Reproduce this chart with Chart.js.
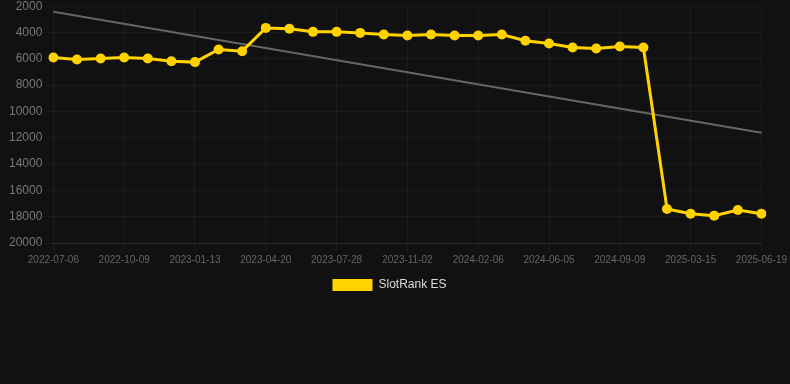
<!DOCTYPE html>
<html>
<head>
<meta charset="utf-8">
<script src="https://cdn.jsdelivr.net/npm/chart.js@4"></script>
<style>
  html, body { margin: 0; padding: 0; background: #111111; overflow: hidden; }
  #wrap { width: 790px; height: 305px; position: relative; top: -4px; }
</style>
</head>
<body>
<div id="wrap"><canvas id="rankChart"></canvas></div>
<script>
const dates = [
    '2022-07-06', '2022-08-07', '2022-09-08', '2022-10-09', '2022-11-10', '2022-12-12',
    '2023-01-13', '2023-02-15', '2023-03-18', '2023-04-20', '2023-05-22', '2023-06-25',
    '2023-07-28', '2023-08-30', '2023-10-01', '2023-11-02', '2023-12-05', '2024-01-06',
    '2024-02-06', '2024-03-10', '2024-04-12', '2024-06-05', '2024-07-07', '2024-08-08',
    '2024-09-09', '2024-10-11', '2025-01-12', '2025-03-15', '2025-04-16', '2025-05-18',
    '2025-06-19'
]
const rankEs = [
    5900, 6050, 5970, 5900, 5970, 6180,
    6250, 5290, 5420, 3650, 3720, 3950,
    3950, 4030, 4150, 4230, 4150, 4230,
    4230, 4150, 4630, 4840, 5140, 5210,
    5060, 5140, 17420, 17770, 17920, 17490,
    17770
]
// trend line: only the two end values, gap spanned by the library
const trendEnds = [2430, 11620]
const yTicks = [2000, 4000, 6000, 8000, 10000, 12000, 14000, 16000, 18000, 20000]

const trendData = dates.map(function(d, i) {
    if (i === 0) return trendEnds[0]
    if (i === dates.length - 1) return trendEnds[1]
    return null
})

const ctx = document.getElementById('rankChart')
new Chart(ctx, {
    type: 'line',
    data: {
        labels: dates,
        datasets: [
            {
                label: 'SlotRank ES',
                data: rankEs,
                borderColor: '#FFD200',
                backgroundColor: '#FFD200',
                borderWidth: 3,
                pointRadius: 5,
                pointBackgroundColor: '#FFD200',
                pointBorderWidth: 0,
                tension: 0
            },
            {
                label: 'trend',
                data: trendData,
                spanGaps: true,
                borderColor: '#666666',
                borderWidth: 2,
                pointRadius: 0,
                tension: 0
            }
        ]
    },
    options: {
        responsive: true,
        maintainAspectRatio: false,
        animation: false,
        layout: { padding: { left: 6, right: 17, top: 0, bottom: 0 } },
        plugins: {
            legend: {
                position: 'bottom',
                labels: {
                    boxWidth: 40,
                    boxHeight: 12,
                    color: '#dddddd',
                    font: { size: 12 },
                    filter: function(item) { return item.text !== 'trend' },
                    generateLabels: function(chart) {
                        const items = Chart.defaults.plugins.legend.labels.generateLabels(chart)
                        items.forEach(function(it) { it.lineWidth = 0 })
                        return items
                    }
                }
            },
            tooltip: { enabled: false }
        },
        scales: {
            x: {
                grid: { color: 'rgba(255,255,255,0.045)' },
                border: { color: 'rgba(255,255,255,0.08)' },
                ticks: {
                    color: '#666666',
                    font: { size: 10 },
                    maxRotation: 0,
                    autoSkip: true,
                    maxTicksLimit: 11
                }
            },
            y: {
                reverse: true,
                min: yTicks[0],
                max: yTicks[yTicks.length - 1],
                grid: { color: 'rgba(255,255,255,0.045)' },
                border: { display: false },
                afterBuildTicks: function(axis) {
                    axis.ticks = yTicks.map(function(v) { return { value: v } })
                },
                ticks: {
                    color: '#777777',
                    font: { size: 12 },
                    callback: function(v) { return String(v) }
                }
            }
        }
    }
})
</script>
</body>
</html>
